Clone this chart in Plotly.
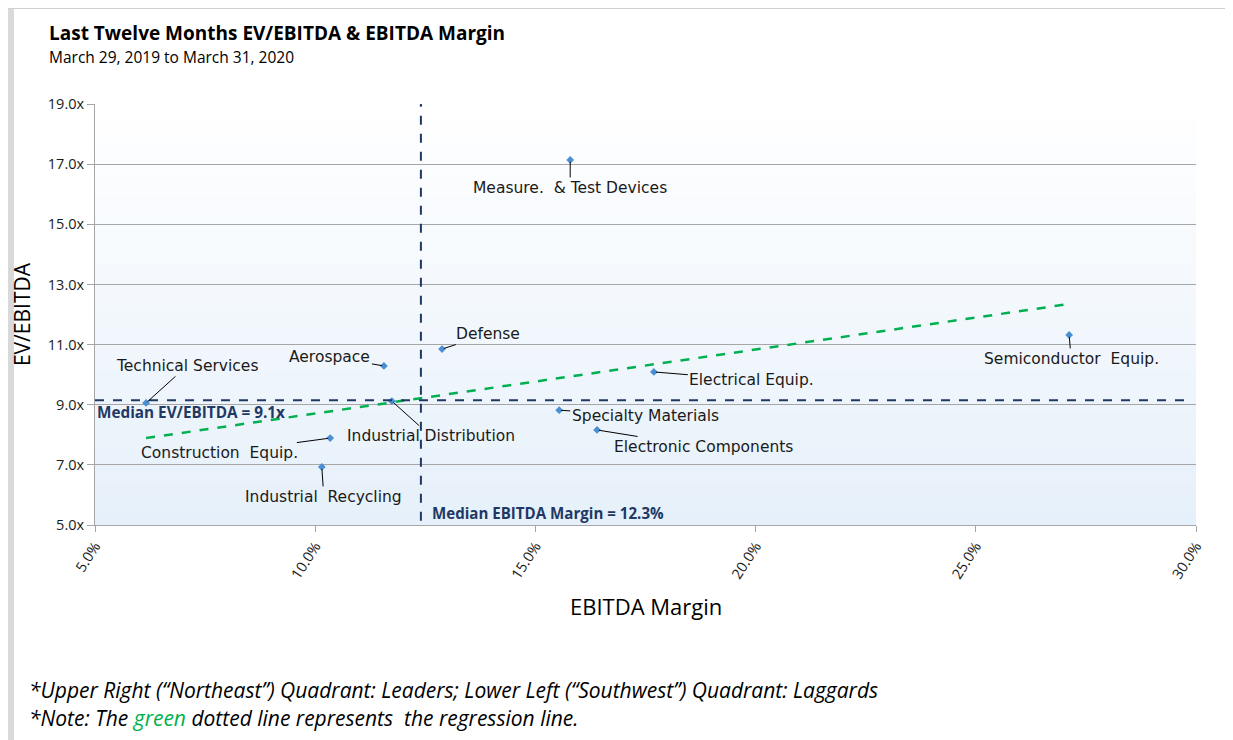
import plotly.graph_objects as go

# sector data (EBITDA margin %, EV/EBITDA x)
sectors = ["Technical Services", "Aerospace", "Defense", "Measure.  & Test Devices",
           "Electrical Equip.", "Semiconductor  Equip.", "Specialty Materials",
           "Electronic Components", "Industrial Distribution", "Construction  Equip.",
           "Industrial  Recycling"]
ebitda_margin = [6.16, 11.56, 12.88, 15.79, 17.69, 27.12, 15.54, 16.40, 11.74, 10.34, 10.15]
ev_ebitda = [9.06, 10.29, 10.85, 17.14, 10.09, 11.32, 8.82, 8.16, 9.12, 7.89, 6.93]

# label offsets from point (pixels) - layout only
label_dx = [41, -54, 46, 0, 98, 2, 86, 106, 39, -111, 2]
label_dy = [-37, -9, -15, 28, 8, 24, 6, 17, 35, 15, 30]

median_ev = 9.15
median_margin = 12.4
regression_x = [6.16, 27.12]
regression_y = [7.89, 12.35]

y_ticks = [5, 7, 9, 11, 13, 15, 17, 19]
x_ticks = [5, 10, 15, 20, 25, 30]

NAVY = "#1F3864"
GREEN = "#00B050"
GRID = "#A6A6A6"
FONT = "Open Sans"

fig = go.Figure()

fig.add_trace(go.Scatter(
    x=regression_x, y=regression_y, mode="lines",
    line=dict(color=GREEN, width=2.5, dash="dash"),
    hoverinfo="skip", showlegend=False
))

fig.add_trace(go.Scatter(
    x=ebitda_margin, y=ev_ebitda, mode="markers", text=sectors,
    marker=dict(symbol="diamond", size=6, color="#4A8FD4"),
    hovertemplate="%{text}<br>%{x:.1f}%, %{y:.1f}x<extra></extra>",
    showlegend=False
))

shapes = []
# vertical gradient background, white at top to pale blue at bottom
n_bands = 60
top_rgb = (255, 255, 255)
bot_rgb = (230, 240, 250)
for i in range(n_bands):
    t = i / (n_bands - 1)
    r, g, b = [round(bot_rgb[k] + (top_rgb[k] - bot_rgb[k]) * t) for k in range(3)]
    shapes.append(dict(type="rect", xref="paper", yref="paper",
                       x0=0, x1=1, y0=i / n_bands, y1=(i + 1) / n_bands + 0.002,
                       fillcolor=f"rgb({r},{g},{b})", line=dict(width=0), layer="below"))

# median lines
shapes.append(dict(type="line", xref="x", yref="y", x0=5, x1=29.86, y0=median_ev, y1=median_ev,
                   line=dict(color=NAVY, width=2, dash="dash")))
shapes.append(dict(type="line", xref="x", yref="paper", x0=median_margin, x1=median_margin, y0=0.01, y1=1,
                   line=dict(color=NAVY, width=2, dash="dash")))

# page border bits
shapes.append(dict(type="rect", xref="paper", yref="paper", x0=-0.08, x1=-0.0736, y0=-0.52, y1=1.25,
                   fillcolor="#D9D9D9", line=dict(width=0), layer="below"))
shapes.append(dict(type="rect", xref="paper", yref="paper", x0=-0.08, x1=1.04, y0=1.2255, y1=1.25,
                   fillcolor="#D0D0D0", line=dict(width=0), layer="below"))

annotations = []
label_font = dict(family="DejaVu Sans", size=15.5, color="#1a1a1a")
for name, xv, yv, dx, dy in zip(sectors, ebitda_margin, ev_ebitda, label_dx, label_dy):
    annotations.append(dict(
        x=xv, y=yv, xref="x", yref="y", text=name, ax=dx, ay=dy,
        showarrow=True, arrowhead=0, arrowwidth=1, arrowcolor="#000000",
        standoff=2, font=label_font
    ))

annotations += [
    dict(x=5.0, y=8.76, xref="x", yref="y", xanchor="left", yanchor="middle", showarrow=False,
         text="<b>Median EV/EBITDA = 9.1x</b>", font=dict(family=FONT, size=15.3, color=NAVY)),
    dict(x=12.6, y=5.4, xref="x", yref="y", xanchor="left", yanchor="middle", showarrow=False,
         text="<b>Median EBITDA Margin = 12.3%</b>", font=dict(family=FONT, size=15.1, color=NAVY)),
    dict(x=-0.0436, y=1.1686, xref="paper", yref="paper", xanchor="left", yanchor="middle", showarrow=False,
         text="<b>Last Twelve Months EV/EBITDA & EBITDA Margin</b>",
         font=dict(family=FONT, size=19, color="#000000")),
    dict(x=-0.0436, y=1.1116, xref="paper", yref="paper", xanchor="left", yanchor="middle", showarrow=False,
         text="March 29, 2019 to March 31, 2020", font=dict(family=FONT, size=15.5, color="#000000")),
    dict(x=-0.0663, y=0.501, xref="paper", yref="paper", xanchor="center", yanchor="middle", showarrow=False,
         text="EV/EBITDA", textangle=-90, font=dict(family=FONT, size=21, color="#000000")),
    dict(x=0.5005, y=-0.1924, xref="paper", yref="paper", xanchor="center", yanchor="middle", showarrow=False,
         text="EBITDA Margin", font=dict(family=FONT, size=22, color="#000000")),
    dict(x=-0.062, y=-0.392, xref="paper", yref="paper", xanchor="left", yanchor="middle", showarrow=False,
         text="<i>*Upper Right (“Northeast”) Quadrant: Leaders; Lower Left (“Southwest”) Quadrant: Laggards</i>",
         font=dict(family=FONT, size=21, color="#000000")),
    dict(x=-0.062, y=-0.458, xref="paper", yref="paper", xanchor="left", yanchor="middle", showarrow=False,
         text="<i>*Note: The <span style='color:#00B050'>green</span> dotted line represents  the regression line.</i>",
         font=dict(family=FONT, size=21, color="#000000")),
]

# page body has an 8px margin, so the figure is 8px smaller on each origin side
fig.update_layout(
    width=1225, height=732,
    margin=dict(l=87, r=37, t=96, b=215),
    paper_bgcolor="white", plot_bgcolor="rgba(0,0,0,0)",
    shapes=shapes, annotations=annotations,
    showlegend=False,
    xaxis=dict(range=[5, 30], tickvals=x_ticks, ticktext=[f"{v:.1f}%" for v in x_ticks],
               tickangle=-57, ticks="outside", ticklen=6, tickcolor=GRID,
               showline=True, linecolor=GRID, linewidth=1, showgrid=False, zeroline=False,
               tickfont=dict(family=FONT, size=14.5, color="#1a1a1a")),
    yaxis=dict(range=[5, 19], tickvals=y_ticks, ticktext=[f"{v:.1f}x" for v in y_ticks],
               ticks="outside", ticklen=7, tickcolor=GRID,
               showline=True, linecolor=GRID, linewidth=1,
               showgrid=True, gridcolor=GRID, gridwidth=1, zeroline=False,
               tickfont=dict(family=FONT, size=14.5, color="#1a1a1a")),
)

fig.write_html("out.html")
